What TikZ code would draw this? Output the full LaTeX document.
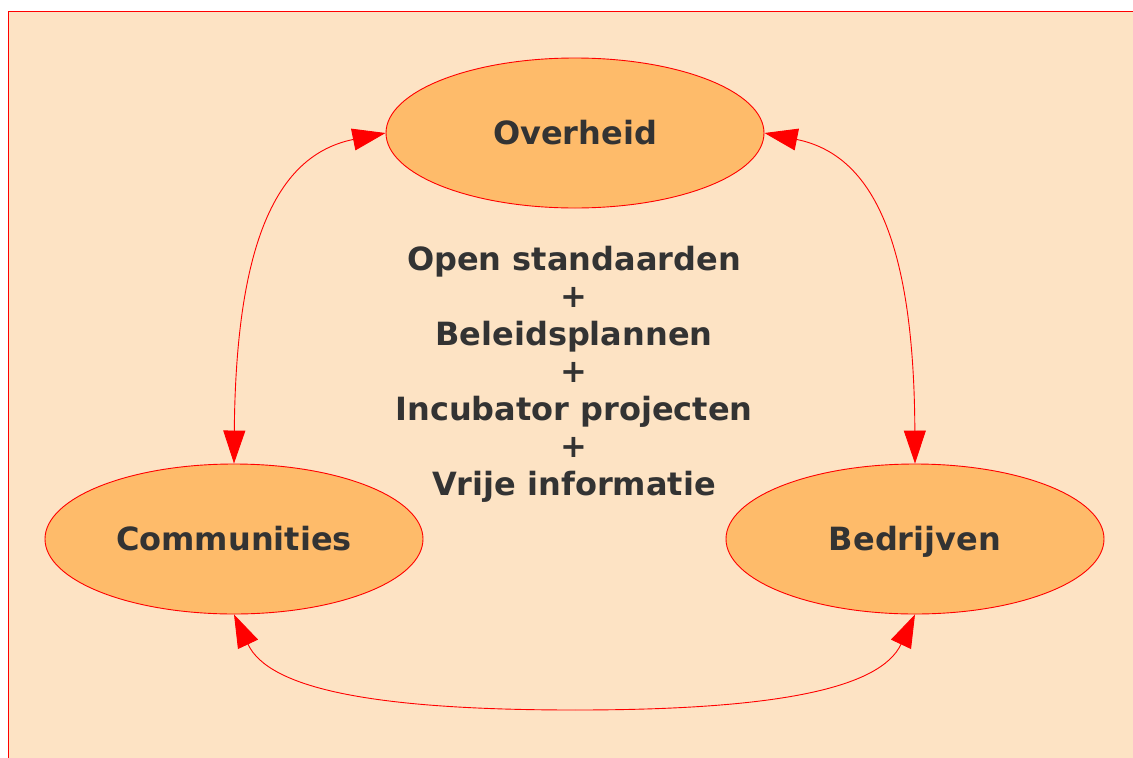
\documentclass[tikz,border=0pt]{standalone}
\usepackage{fontspec}
\setmainfont{DejaVu Sans}
\usetikzlibrary{shapes.geometric,arrows.meta}
\definecolor{bgpeach}{RGB}{253,227,196}
\definecolor{ellfill}{RGB}{254,187,106}
\definecolor{txtgray}{RGB}{51,51,51}
\tikzset{
  actor/.style={ellipse, draw=red, line width=0.9pt, fill=ellfill, minimum width=378pt, minimum height=150pt, inner sep=0pt,
    text=txtgray, font=\fontsize{32}{38}\selectfont\bfseries, text height=23pt, text depth=0pt},
  centertext/.style={text=txtgray, font=\fontsize{32}{38}\selectfont\bfseries, anchor=base, inner sep=0pt},
  link/.style={draw=red, line width=0.9pt, {Triangle[length=33pt,width=22pt,fill=red]}-{Triangle[length=33pt,width=22pt,fill=red]}},
}
\begin{document}
\begin{tikzpicture}[x=1pt,y=-1pt]
\useasboundingbox (0,0) rectangle (1133,758);
\fill[bgpeach] (8,11) rectangle (1133,758);
\draw[red, line width=1pt] (8,758) -- (8,11) -- (1133,11);

\node[actor] (ov) at (575,133) {Overheid};
\node[actor] (co) at (234,539) {Communities};
\node[actor] (bd) at (915,539) {Bedrijven};

\node[centertext] (t1) at (574,270) {Open standaarden};
\node[centertext] (t2) at (574,307.5) {+};
\node[centertext] (t3) at (574,345) {Beleidsplannen};
\node[centertext] (t4) at (574,382.5) {+};
\node[centertext] (t5) at (574,420) {Incubator projecten};
\node[centertext] (t6) at (574,457.5) {+};
\node[centertext] (t7) at (574,495) {Vrije informatie};

\coordinate (mid) at (575,710);

\draw[link] (ov.west) .. controls (276,155) and (236,244) .. (co.north);
\draw[link] (ov.east) .. controls (874,155) and (914,244) .. (bd.north);
\draw[draw=red, line width=0.9pt, {Triangle[length=33pt,width=22pt,fill=red]}-] (co.south) .. controls (269,689) and (375,710) .. (mid);
\draw[draw=red, line width=0.9pt, -{Triangle[length=33pt,width=22pt,fill=red]}] (mid) .. controls (774,710) and (880,689) .. (bd.south);
\end{tikzpicture}
\end{document}
